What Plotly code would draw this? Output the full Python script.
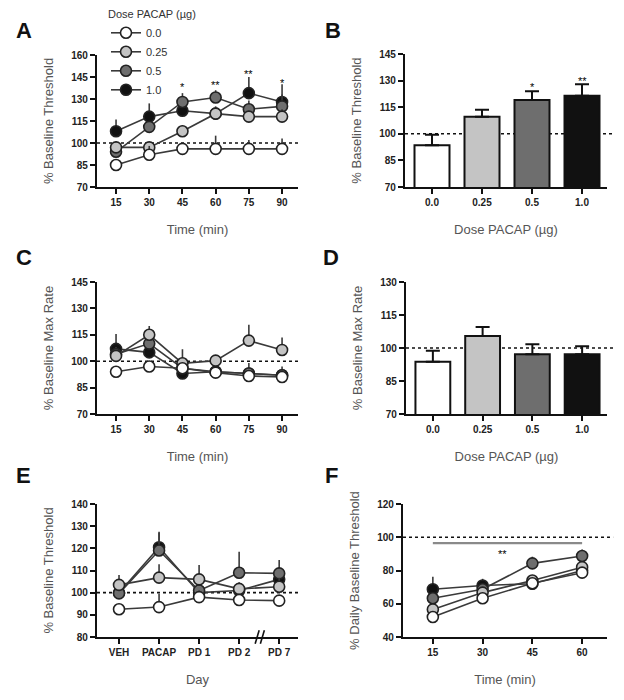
import plotly.graph_objects as go
from plotly.subplots import make_subplots

# ---------------- data ----------------
doses = ["0.0", "0.25", "0.5", "1.0"]
time_A = [15, 30, 45, 60, 75, 90]
time_F = [15, 30, 45, 60]
days_E = ["VEH", "PACAP", "PD 1", "PD 2", "PD 7"]

# Panel A: % Baseline Threshold over time
a_00 = [85, 92, 96, 96, 96, 96]
a_025 = [97, 97, 108, 120, 118, 118]
a_05 = [94, 111, 128, 131, 123, 125]
a_10 = [108, 118, 122, 120, 134, 128]
a_00_err = [3, 6, 4, 9, 6, 7]
a_025_err = [4, 3, 4, 5, 4, 5]
a_05_err = [3, 4, 6, 5, 6, 8]
a_10_err = [8, 9, 4, 4, 11, 12]
a_star_x = [45, 60, 75, 90]
a_star_y = [138, 139.5, 147, 141]
a_star_txt = ["*", "**", "**", "*"]

# Panel B: bars
b_mean = [93.5, 109.6, 119, 121.5]
b_err = [6, 4, 5, 6.5]
b_star_idx = [2, 3]
b_star_y = [126.5, 129.5]
b_star_txt = ["*", "**"]

# Panel C: % Baseline Max Rate over time
c_00 = [94, 97, 96, 93.5, 91.6, 91]
c_025 = [103, 115, 98.8, 100.3, 111.7, 106.4]
c_05 = [104, 110, 96, 94, 93, 92]
c_10 = [107, 105, 93, 94, 93, 92]
c_00_err = [2, 3, 3, 2, 3, 4]
c_025_err = [3, 5, 8, 3, 9, 7]
c_05_err = [4, 5, 3, 3, 3, 3]
c_10_err = [8.5, 4, 5, 3, 6, 5]

# Panel D: bars
d_mean = [93.8, 105.5, 97.2, 97.2]
d_err = [5, 4, 4.5, 3.6]

# Panel E: % Baseline Threshold by day
e_00 = [92.5, 93.5, 98, 96.7, 96.4]
e_025 = [103.5, 106.8, 106, 101.7, 102.7]
e_05 = [99.7, 119, 101, 109, 108.7]
e_10 = [100, 120.5, 100, 101, 106]
e_00_err = [2, 6, 3, 2, 2]
e_025_err = [4.5, 6, 6.5, 3, 4]
e_05_err = [3, 8, 4, 9.5, 6]
e_10_err = [3, 7, 3, 3, 4]

# Panel F: % Daily Baseline Threshold over time
f_00 = [52, 63.3, 72.3, 78.7]
f_025 = [56.6, 66.7, 74, 82]
f_05 = [63.3, 68.7, 84.3, 88.7]
f_10 = [68.7, 71, 72, 80]
f_00_err = [2, 2, 2, 2]
f_025_err = [2, 2, 2, 2]
f_05_err = [3, 3, 4, 4]
f_10_err = [7.5, 4, 2, 2]
f_bar_x = [15, 60]
f_bar_y = [96.5, 96.5]
f_star_x = [36]
f_star_y = [90]

# ---------------- style ----------------
FONT = "Liberation Sans"
fills = {"0.0": "#ffffff", "0.25": "#c4c4c4", "0.5": "#6e6e6e", "1.0": "#111111"}
LINE = "#3a3a3a"

fig = make_subplots(rows=3, cols=2)


def add_lines(x, series, errs, row, col, showlegend=False):
    # draw darkest first, white on top
    for d in ["1.0", "0.5", "0.25", "0.0"]:
        i = doses.index(d)
        fig.add_trace(go.Scatter(
            x=x, y=series[i], mode="lines+markers", name=d,
            legendrank=i + 1, showlegend=showlegend,
            line=dict(color=LINE, width=1.6),
            marker=dict(size=11, color=fills[d], line=dict(color="#222", width=1.6)),
            error_y=dict(type="data", symmetric=False, array=errs[i],
                         arrayminus=[0] * len(errs[i]), thickness=1.6, width=0, color=LINE),
        ), row=row, col=col)


def add_bars(means, errs, row, col):
    fig.add_trace(go.Bar(
        x=doses, y=means, showlegend=False, width=0.7,
        marker=dict(color=[fills[d] for d in doses], line=dict(color="#111", width=2)),
        error_y=dict(type="data", symmetric=False, array=errs, arrayminus=[0] * len(errs),
                     thickness=2, width=7, color="#111"),
    ), row=row, col=col)


add_lines(time_A, [a_00, a_025, a_05, a_10], [a_00_err, a_025_err, a_05_err, a_10_err], 1, 1, True)
add_bars(b_mean, b_err, 1, 2)
add_lines(time_A, [c_00, c_025, c_05, c_10], [c_00_err, c_025_err, c_05_err, c_10_err], 2, 1)
add_bars(d_mean, d_err, 2, 2)
add_lines(days_E, [e_00, e_025, e_05, e_10], [e_00_err, e_025_err, e_05_err, e_10_err], 3, 1)
add_lines(time_F, [f_00, f_025, f_05, f_10], [f_00_err, f_025_err, f_05_err, f_10_err], 3, 2)

# significance bar in F
fig.add_trace(go.Scatter(x=f_bar_x, y=f_bar_y, mode="lines", showlegend=False,
                         line=dict(color="#8a8a8a", width=2.2)), row=3, col=2)

# ---------------- axes ----------------
W, H = 624, 700


def xd(a, b):
    return [a / W, b / W]


def yd(top, bot):
    return [1 - bot / H, 1 - top / H]


tickfont = dict(family=FONT, size=10, color="#222", weight="bold")
titlefont = dict(family=FONT, size=13, color="#555")
common = dict(showline=True, linecolor="#111", linewidth=2.2, ticks="outside", ticklen=5,
              tickwidth=2, tickcolor="#111", showgrid=False, zeroline=False, tickfont=tickfont,
              automargin=False)

panels = [
    ("xaxis", "yaxis", xd(97, 298), yd(55, 187), [6.4, 97.2], [70, 160], 15, "% Baseline Threshold", "Time (min)"),
    ("xaxis2", "yaxis2", xd(405, 607), yd(54, 187), [-0.54, 3.5], [70, 145], 15, "% Baseline Threshold", "Dose PACAP (µg)"),
    ("xaxis3", "yaxis3", xd(97, 298), yd(282, 414), [6.4, 97.2], [70, 145], 15, "% Baseline Max Rate", "Time (min)"),
    ("xaxis4", "yaxis4", xd(406, 607), yd(282, 414), [-0.54, 3.5], [70, 130], 15, "% Baseline Max Rate", "Dose PACAP (µg)"),
    ("xaxis5", "yaxis5", xd(97, 298), yd(504, 637), [-0.55, 4.47], [80, 140], 10, "% Baseline Threshold", "Day"),
    ("xaxis6", "yaxis6", xd(403, 607), yd(504, 637), [6, 67.5], [40, 120], 20, "% Daily Baseline Threshold", "Time (min)"),
]
lay = {}
for xk, yk, xdom, ydom, xr, yr, step, yt, xt in panels:
    xa = dict(common, domain=xdom, range=xr,
              title=dict(text=xt, font=titlefont, standoff=18))
    if xk in ("xaxis", "xaxis3"):
        xa.update(tickmode="array", tickvals=time_A)
    if xk == "xaxis6":
        xa.update(tickmode="array", tickvals=time_F)
    if xk in ("xaxis2", "xaxis4", "xaxis5"):
        xa.update(type="category")
    lay[xk] = xa
    lay[yk] = dict(common, domain=ydom, range=yr, tick0=yr[0], dtick=step,
                   title=dict(text=yt, font=titlefont, standoff=15))
fig.update_layout(**lay)

# dotted reference lines at 100
for i, (xref, ext) in enumerate([("x", 1.0), ("x2", 1.03), ("x3", 1.0), ("x4", 1.03), ("x5", 1.0), ("x6", 1.03)]):
    yref = "y" if i == 0 else "y%d" % (i + 1)
    fig.add_shape(type="line", xref=xref + " domain", yref=yref, x0=0, x1=ext, y0=100, y1=100,
                  line=dict(color="#111", width=1.6, dash="dot"), layer="below")

# axis break in E
for dx in (0.0, 0.13):
    fig.add_shape(type="line", xref="x5", yref="y5 domain", x0=3.40 + dx, x1=3.50 + dx, y0=-0.05, y1=0.05,
                  line=dict(color="#111", width=1.6))

# stars
STAR = dict(family=FONT, size=11, color="#000000")
ann = []
for x, y, t in zip(a_star_x, a_star_y, a_star_txt):
    ann.append(dict(x=x, y=y, xref="x", yref="y", text=t, showarrow=False, font=STAR))
for x, y, t in zip(b_star_idx, b_star_y, b_star_txt):
    ann.append(dict(x=x, y=y, xref="x2", yref="y2", text=t, showarrow=False, font=STAR))
for x, y in zip(f_star_x, f_star_y):
    ann.append(dict(x=x, y=y, xref="x6", yref="y6", text="**", showarrow=False, font=STAR))

# panel letters
for letter, px, py in [("A", 24, 31), ("B", 333, 31), ("C", 24, 257), ("D", 331, 257), ("E", 23, 475), ("F", 331, 475)]:
    ann.append(dict(x=px / W, y=1 - py / H, xref="paper", yref="paper", text="<b>%s</b>" % letter,
                    showarrow=False, xanchor="center", yanchor="middle",
                    font=dict(family=FONT, size=22, color="#111")))

fig.update_layout(
    annotations=ann,
    width=W, height=H, margin=dict(l=0, r=0, t=0, b=0, autoexpand=False),
    plot_bgcolor="white", paper_bgcolor="white",
    font=dict(family=FONT, color="#222"),
    legend=dict(x=106 / W, y=1 - 4 / H, xanchor="left", yanchor="top",
                bgcolor="rgba(0,0,0,0)", itemwidth=30,
                title=dict(text="Dose PACAP (µg)", font=dict(family=FONT, size=11, color="#333")),
                font=dict(family=FONT, size=11, color="#333")),
)

fig.write_html("out.html", config={"displayModeBar": False},
               post_script="document.body.style.margin='0';")
